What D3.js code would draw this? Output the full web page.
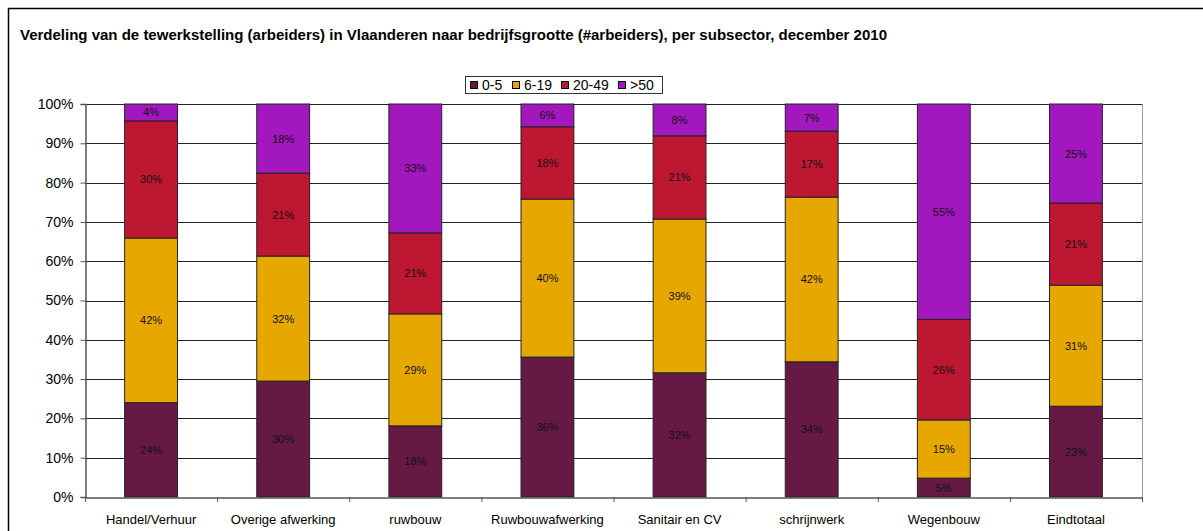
<html>
<meta charset="utf-8">
<style>
body { margin: 0; background: #fff; }
text { font-family: "Liberation Sans", Arial, sans-serif; }
.tick text { font-size: 14px; fill: #000; }
.seglabel { font-size: 11px; fill: #111; }
</style>
<body>
<script src="https://cdn.jsdelivr.net/npm/d3@7"></script>
<script>

var categories = ['Handel/Verhuur', 'Overige afwerking', 'ruwbouw', 'Ruwbouwafwerking',
                  'Sanitair en CV', 'schrijnwerk', 'Wegenbouw', 'Eindtotaal'];
var seriesNames = ['0-5', '6-19', '20-49', '>50'];
var colors = ['#661944', '#e6a800', '#be1732', '#a318be'];

// shares per series, in %, one per category
var s0_5   = [24.0, 29.5, 18.1, 35.6, 31.6, 34.4, 4.8, 23.1];
var s6_19  = [41.9, 31.8, 28.5, 40.2, 39.1, 41.9, 14.8, 30.8];
var s20_49 = [29.8, 21.1, 20.6, 18.4, 21.2, 16.8, 25.6, 20.9];
var s50    = [4.3, 17.6, 32.8, 5.8, 8.1, 6.9, 54.8, 25.2];
var yTicks = [0, 10, 20, 30, 40, 50, 60, 70, 80, 90, 100];

var title = 'Verdeling van de tewerkstelling (arbeiders) in Vlaanderen naar bedrijfsgrootte (#arbeiders), per subsector, december 2010';

/*******************
settings
(note: "top" is taken by window.top, hence the plot_ prefix)
********************/
var width = 1203, height = 531,
    plot_left = 85, plot_right = 1142, plot_top = 104, plot_bottom = 497;

var svg = d3.select('body').append('svg')
    .attr('width', width)
    .attr('height', height);

// outer frame of the chart (runs off right and bottom)
svg.append('rect')
    .attr('x', 8.5).attr('y', 8.5)
    .attr('width', 1220).attr('height', 560)
    .attr('fill', '#fff').attr('stroke', '#000').attr('stroke-width', 1.5);

svg.append('text')
    .attr('x', 20).attr('y', 40)
    .style('font-size', '15px').style('font-weight', 'bold')
    .text(title);

var x = d3.scaleBand().domain(categories).range([plot_left, plot_right]).paddingInner(0.6).paddingOuter(0.3);
var xa = d3.scaleBand().domain(categories).range([plot_left, plot_right]);
var y = d3.scaleLinear().domain([0, 100]).range([plot_bottom, plot_top]);

// grid
svg.append('g').selectAll('line')
    .data(yTicks.slice(1))
    .enter().append('line')
    .attr('x1', plot_left).attr('x2', plot_right)
    .attr('y1', function(d){ return Math.round(y(d)) + 0.5; })
    .attr('y2', function(d){ return Math.round(y(d)) + 0.5; })
    .attr('stroke', '#222').attr('stroke-width', 1);

// plot area right edge
svg.append('line')
    .attr('x1', plot_right + 0.5).attr('x2', plot_right + 0.5)
    .attr('y1', plot_top).attr('y2', plot_bottom)
    .attr('stroke', '#999');

// stacked data
var rows = categories.map(function(c, i) {
    return { cat: c, '0-5': s0_5[i], '6-19': s6_19[i], '20-49': s20_49[i], '>50': s50[i] };
});
var stacked = d3.stack().keys(seriesNames)(rows);

var layers = svg.append('g').selectAll('g')
    .data(stacked)
    .enter().append('g')
    .attr('fill', function(d, i){ return colors[i]; });

layers.selectAll('rect')
    .data(function(d){ return d; })
    .enter().append('rect')
    .attr('x', function(d){ return x(d.data.cat); })
    .attr('width', x.bandwidth())
    .attr('y', function(d){ return y(d[1]); })
    .attr('height', function(d){ return y(d[0]) - y(d[1]); })
    .attr('stroke', '#222').attr('stroke-width', 1);

layers.selectAll('text')
    .data(function(d){ return d; })
    .enter().append('text')
    .attr('class', 'seglabel')
    .attr('text-anchor', 'middle')
    .attr('x', function(d){ return x(d.data.cat) + x.bandwidth() / 2; })
    .attr('y', function(d){ return (y(d[0]) + y(d[1])) / 2 + 4; })
    .text(function(d){ return Math.round(d[1] - d[0]) + '%'; });

// axes
var yAxis = svg.append('g')
    .attr('transform', 'translate(' + (plot_left + 0.5) + ',0)')
    .call(d3.axisLeft(y).tickValues(yTicks).tickSize(5).tickPadding(7)
        .tickFormat(function(d){ return d + '%'; }));
yAxis.select('.domain').attr('stroke', '#555').attr('stroke-width', 1.5);
yAxis.selectAll('.tick line').attr('stroke', '#555');

var xAxis = svg.append('g')
    .attr('transform', 'translate(0,' + (plot_bottom + 0.5) + ')')
    .call(d3.axisBottom(xa).tickSize(0).tickPadding(17));
xAxis.select('.domain').attr('stroke', '#555').attr('stroke-width', 1.5);
xAxis.selectAll('.tick text').style('font-size', '13px');

// category separators below the axis
svg.append('g').selectAll('line')
    .data(categories.concat(['end']))
    .enter().append('line')
    .attr('x1', function(d, i){ return plot_left + i * xa.step() + 0.5; })
    .attr('x2', function(d, i){ return plot_left + i * xa.step() + 0.5; })
    .attr('y1', plot_bottom).attr('y2', plot_bottom + 5)
    .attr('stroke', '#555');

// legend
var legend = svg.append('g');
legend.append('rect')
    .attr('x', 465.5).attr('y', 76.5).attr('width', 197).attr('height', 17)
    .attr('fill', '#fff').attr('stroke', '#333');
var legX = [470, 512, 561, 618];
var items = legend.selectAll('g.item')
    .data(seriesNames)
    .enter().append('g').attr('class', 'item')
    .attr('transform', function(d, i){ return 'translate(' + legX[i] + ',81)'; });
items.append('rect')
    .attr('x', 0.5).attr('y', 0.5).attr('width', 7).attr('height', 7)
    .attr('fill', function(d, i){ return colors[i]; })
    .attr('stroke', '#000');
items.append('text')
    .attr('x', 12).attr('y', 9)
    .style('font-size', '14px')
    .text(function(d){ return d; });

</script>
</body>
</html>
